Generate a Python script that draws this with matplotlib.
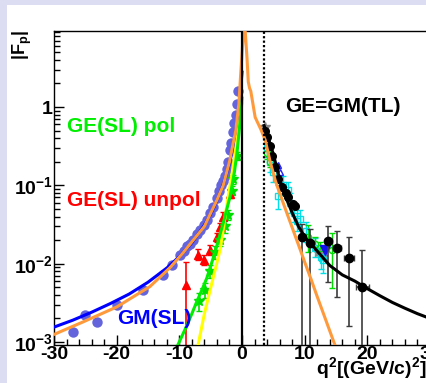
import matplotlib
matplotlib.use("Agg")
import matplotlib.pyplot as plt
from matplotlib.patches import Rectangle
from matplotlib.ticker import FixedLocator, LogLocator, MultipleLocator, NullFormatter

plt.rcParams["font.family"] = "Liberation Sans"
plt.rcParams["font.weight"] = "bold"
plt.rcParams["axes.unicode_minus"] = False
plt.rcParams["mathtext.fontset"] = "custom"
plt.rcParams["mathtext.rm"] = "Liberation Sans:bold"
plt.rcParams["mathtext.it"] = "Liberation Sans:bold"
plt.rcParams["mathtext.bf"] = "Liberation Sans:bold"
plt.rcParams["mathtext.default"] = "rm"

W, H = 427, 383

# --- fitted curves ---
GM_FIT_Q2 = [-30, -27, -24, -21, -18, -15, -12, -10, -8, -6, -5, -4, -3, -2, -1.5, -1, -0.6, -0.3, 0]
GM_FIT_VAL = [1.55e-3, 1.9e-3, 2.4e-3, 3.1e-3, 4.1e-3, 5.8e-3, 8.8e-3, 0.0123, 0.0185, 0.031, 0.043,
              0.064, 0.102, 0.19, 0.29, 0.48, 0.82, 1.38, 2.79]

ORANGE_Q2 = [-30, -25.4, -20, -14.7, -11.5, -9.4, -8, -6, -4, -3, -2, -1, -0.5, -0.2, 0.2, 0.45,
             0.8, 1.0, 1.2, 1.4, 2.1, 3.0, 3.7, 4.5, 5.3, 6, 7, 8, 9, 10, 11, 12, 13, 14, 15]
ORANGE_VAL = [1.25e-3, 1.8e-3, 2.8e-3, 5.1e-3, 8.9e-3, 0.0138, 0.019, 0.03, 0.065, 0.1, 0.2, 0.5,
              1.1, 2.7, 8.4, 11.0, 4.2, 2.1, 1.75, 1.6, 0.74, 0.52, 0.38, 0.2, 0.116, 0.08, 0.048,
              0.029, 0.0175, 0.0105, 0.0064, 0.0038, 0.0023, 0.00139, 0.00084]

GE_POL_FIT_Q2 = [-10.2, -9, -8, -7.2, -6.4, -5.6, -4.3, -3.0, -1.9, -1.2, -0.8, -0.5, -0.2, 0]
GE_POL_FIT_VAL = [9.3e-4, 1.5e-3, 2.3e-3, 3.3e-3, 4.6e-3, 6.6e-3, 0.014, 0.033, 0.072, 0.15, 0.26,
                  0.45, 0.8, 1.3]

YELLOW_Q2 = [-7.0, -6, -5, -4, -3.5, -3, -2.4, -1.6, -0.8, -0.4, 0]
YELLOW_VAL = [9.2e-4, 2.3e-3, 4.9e-3, 0.0103, 0.015, 0.027, 0.057, 0.14, 0.38, 0.62, 1.1]

TL_FIT_Q2 = [3.52, 4, 5, 6, 7, 8, 9, 10, 12, 14, 16, 18, 20, 22, 24, 26, 28, 30]
TL_FIT_VAL = [0.58, 0.45, 0.25, 0.12, 0.07, 0.045, 0.03, 0.022, 0.0145, 0.0095, 0.0072, 0.006,
              0.0048, 0.0039, 0.0032, 0.0027, 0.0023, 0.002]

# --- space-like data ---
GM_SL_Q2 = [-27.0, -25.0, -23.2, -20.0, -15.8, -12.6, -11.2, -9.9, -9.3, -8.8, -8.3, -7.8, -7.2,
            -6.7, -6.1, -5.6, -5.1, -4.6, -4.0, -3.6, -3.3, -3.0, -2.7, -2.4, -2.2, -1.9, -1.7,
            -1.4, -1.2, -1.0, -0.8, -0.6]
GM_SL_VAL = [1.34e-3, 2.2e-3, 1.8e-3, 3.0e-3, 4.6e-3, 7.2e-3, 9.5e-3, 0.013, 0.0145, 0.0166, 0.018,
             0.02, 0.024, 0.027, 0.031, 0.036, 0.044, 0.053, 0.068, 0.085, 0.1, 0.115, 0.13, 0.16,
             0.2, 0.28, 0.35, 0.48, 0.62, 0.8, 1.1, 1.6]

GE_UNPOL_Q2 = [-9.0, -7.1, -6.1, -5.1, -4.0, -3.5, -3.0, -1.9]
GE_UNPOL_VAL = [5.4e-3, 0.013, 0.0113, 0.015, 0.022, 0.029, 0.040, 0.077]
GE_UNPOL_LO = [1e-4, 0.011, 0.0097, 0.013, 0.019, 0.025, 0.035, 0.068]
GE_UNPOL_HI = [0.0106, 0.0152, 0.013, 0.0175, 0.025, 0.033, 0.046, 0.088]

GE_POL_Q2 = [-6.8, -5.9, -5.1, -4.3, -3.5, -2.7, -2.2, -1.6, -1.4, -0.8]
GE_POL_VAL = [3.3e-3, 4.6e-3, 8.0e-3, 0.014, 0.020, 0.030, 0.042, 0.085, 0.12, 0.24]
GE_POL_LO = [2.5e-3, 3.6e-3, 6.5e-3, 0.0115, 0.017, 0.025, 0.036, 0.075, 0.105, 0.21]
GE_POL_HI = [4.2e-3, 5.6e-3, 9.6e-3, 0.017, 0.024, 0.036, 0.049, 0.097, 0.135, 0.27]

# --- time-like data ---
BK_LOW_Q2 = [3.7, 4.0, 4.4, 4.8, 5.3, 5.8, 6.4, 7.0, 7.4, 8.2, 8.5]
BK_LOW_VAL = [0.5, 0.42, 0.32, 0.24, 0.17, 0.12, 0.095, 0.08, 0.07, 0.058, 0.055]

BK_HIGH_Q2 = [9.6, 10.9, 13.8, 15.2, 17.0, 19.2]
BK_HIGH_VAL = [0.022, 0.0185, 0.0197, 0.016, 0.0117, 0.0051]
BK_HIGH_LO = [1e-4, 1e-4, 5.9e-3, 3.8e-3, 1.6e-3, 1e-4]
BK_HIGH_HI = [0.032, 0.028, 0.030, 0.026, 0.022, 0.015]
BK_HIGH_XERR = [0.3, 0.3, 0.5, 0.6, 0.8, 1.0]

CY_Q2 = [4.0, 4.5, 5.0, 5.8, 6.5, 7.4, 7.7, 8.3, 8.8, 9.3, 10.2, 11.7, 12.6, 12.9]
CY_VAL = [0.3, 0.2, 0.15, 0.074, 0.1, 0.086, 0.06, 0.045, 0.035, 0.037, 0.026, 0.016, 0.0123, 0.011]
CY_LO = [0.23, 0.15, 0.11, 0.05, 0.075, 0.065, 0.045, 0.034, 0.026, 0.028, 0.019, 0.012, 0.0085, 0.0075]
CY_HI = [0.38, 0.26, 0.2, 0.1, 0.13, 0.11, 0.08, 0.058, 0.045, 0.048, 0.034, 0.021, 0.016, 0.016]

BL_OPEN_Q2 = [5.8, 6.1]
BL_OPEN_VAL = [0.18, 0.15]
BL_FILL_Q2 = [13.3]
BL_FILL_VAL = [0.015]

GR_OPEN_Q2 = [4.0, 4.4, 10.6, 11.7, 12.5, 14.4]
GR_OPEN_VAL = [0.26, 0.2, 0.022, 0.018, 0.016, 0.015]
GR_OPEN_LO = [0.22, 0.17, 0.014, 0.015, 0.013, 0.0049]
GR_OPEN_HI = [0.31, 0.24, 0.031, 0.022, 0.019, 0.025]

GY_Q2 = [3.7, 12.2, 12.8]
GY_VAL = [0.55, 0.014, 0.012]

Y_TICKS = [1e-3, 1e-2, 1e-1, 1]
Y_LABELS = [r"$10^{-3}$", r"$10^{-2}$", r"$10^{-1}$", "1"]
THRESHOLD = 3.52


def px(x, y):
    return x / W, 1 - y / H


def err(val, lo, hi):
    return [[v - l for v, l in zip(val, lo)], [h - v for v, h in zip(val, hi)]]


def main() -> None:
    fig = plt.figure(figsize=(W / 100, H / 100), dpi=100, facecolor="#dcdcf2")
    fig.add_artist(Rectangle(px(7, H), 1, 1 - 5 / H, transform=fig.transFigure,
                             facecolor="white", edgecolor="none", zorder=-5))
    ax = fig.add_axes([54 / W, 38 / H, 376 / W, 314 / H])
    ax.set_yscale("log")
    ax.set_xlim(-30, 30)
    ax.set_ylim(9.16e-4, 9.35)

    # data
    ax.plot(GM_SL_Q2, GM_SL_VAL, "o", color="#6464dc", ms=7.5, mec="none", zorder=2)
    ax.errorbar(GE_UNPOL_Q2, GE_UNPOL_VAL, yerr=err(GE_UNPOL_VAL, GE_UNPOL_LO, GE_UNPOL_HI),
                fmt="^", color="#ff0000", ms=6, capsize=2, elinewidth=1.2, zorder=2)
    ax.errorbar(GE_POL_Q2, GE_POL_VAL, yerr=err(GE_POL_VAL, GE_POL_LO, GE_POL_HI),
                fmt="*", color="#00dd00", ms=7, capsize=2, elinewidth=1.2, zorder=2)

    ax.errorbar(CY_Q2, CY_VAL, yerr=err(CY_VAL, CY_LO, CY_HI), fmt="s", mfc="none",
                color="#00e0e8", ms=4, capsize=2, elinewidth=1.0, zorder=2)
    ax.errorbar(GR_OPEN_Q2, GR_OPEN_VAL, yerr=err(GR_OPEN_VAL, GR_OPEN_LO, GR_OPEN_HI), fmt="o",
                mfc="none", color="#00dd00", ms=4.5, capsize=2, elinewidth=1.0, zorder=2)
    ax.plot(GY_Q2, GY_VAL, "*", color="#8a8a8a", ms=7, zorder=2)
    ax.plot(BL_OPEN_Q2, BL_OPEN_VAL, "^", mfc="none", color="#2020ff", ms=5, zorder=2)
    ax.plot(BL_FILL_Q2, BL_FILL_VAL, "v", color="#1010ee", ms=7, zorder=3)
    ax.plot(BK_LOW_Q2, BK_LOW_VAL, "o", color="black", ms=5.5, zorder=3)
    ax.errorbar(BK_HIGH_Q2, BK_HIGH_VAL, yerr=err(BK_HIGH_VAL, BK_HIGH_LO, BK_HIGH_HI),
                xerr=BK_HIGH_XERR, fmt="o", color="black", ecolor="#3c3c3c", ms=6,
                capsize=2, elinewidth=1.2, zorder=3)

    # fits
    ax.plot(GM_FIT_Q2, GM_FIT_VAL, color="#0000ff", lw=2.2, zorder=4)
    ax.plot(YELLOW_Q2, YELLOW_VAL, color="#ffff00", lw=2.2, zorder=4)
    ax.plot(GE_POL_FIT_Q2, GE_POL_FIT_VAL, color="#00ee00", lw=2.2, zorder=4)
    ax.plot(TL_FIT_Q2, TL_FIT_VAL, color="black", lw=2.2, zorder=4)
    ax.plot(ORANGE_Q2, ORANGE_VAL, color="#ff9a3c", lw=2.2, zorder=5)

    ax.axvline(0, color="black", lw=1.6, zorder=6)
    ax.axvline(THRESHOLD, color="black", lw=1.6, ls=(0, (1, 1)), zorder=6)

    # axes cosmetics
    ax.xaxis.set_major_locator(MultipleLocator(10))
    ax.xaxis.set_minor_locator(MultipleLocator(2))
    ax.yaxis.set_major_locator(FixedLocator(Y_TICKS))
    ax.yaxis.set_minor_locator(LogLocator(base=10, subs=range(2, 10)))
    ax.yaxis.set_minor_formatter(NullFormatter())
    ax.set_yticklabels(Y_LABELS)
    ax.tick_params(which="both", direction="in", top=False, right=False, labelsize=14, width=1)
    ax.tick_params(which="major", length=7.5)
    ax.tick_params(which="minor", length=4)
    ax.tick_params(axis="y", pad=1)
    ax.tick_params(axis="x", pad=1)
    for s in ax.spines.values():
        s.set_linewidth(1.0)

    # labels
    fig.text(*px(67, 127), "GE(SL) pol", color="#00ee00", fontsize=15, va="center")
    fig.text(*px(67, 200), "GE(SL) unpol", color="#ff0000", fontsize=15, va="center")
    fig.text(*px(117, 318), "GM(SL)", color="#0000ff", fontsize=15, va="center")
    fig.text(*px(285, 106), "GE=GM(TL)", color="black", fontsize=15, va="center")
    fig.text(*px(22, 30), r"|F$_{p}$|", rotation=90, fontsize=13, ha="center", va="top")
    fig.text(*px(316, 368), r"q$^{2}$[(GeV/c)$^{2}$]", fontsize=14, ha="left", va="center")

    fig.savefig("out.png", dpi=100, facecolor=fig.get_facecolor())
    plt.close(fig)


if __name__ == "__main__":
    main()
